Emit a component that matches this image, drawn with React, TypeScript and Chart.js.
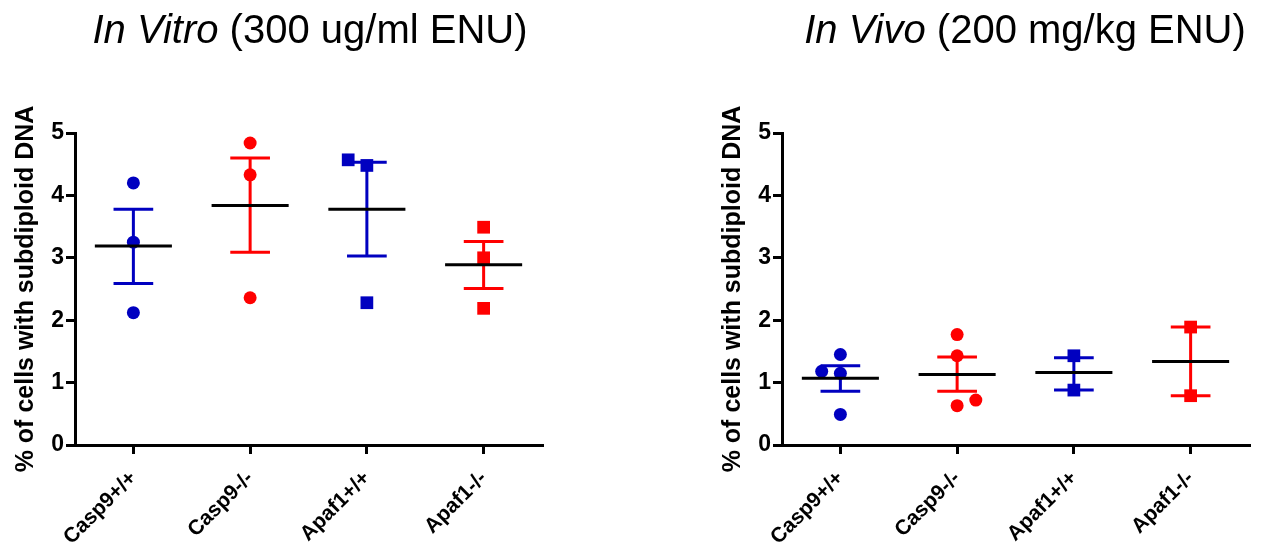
import React, { useEffect, useRef } from "react";
import { Chart, registerables } from "chart.js";

Chart.register(...registerables);

const FONT = "'Liberation Sans', Arial, Helvetica, sans-serif";

const categories = ["Casp9+/+", "Casp9-/-", "Apaf1+/+", "Apaf1-/-"];
const groupColors = ["#0000C0", "#FF0000", "#0000C0", "#FF0000"];
const groupShapes = ["circle", "circle", "rect", "rect"];
const yAxisTitle = "% of cells with subdiploid DNA";

// In Vitro (300 ug/ml ENU)
const vitroValues = [
  [4.2, 3.25, 2.12],
  [4.84, 4.33, 2.36],
  [4.57, 4.48, 2.28],
  [3.49, 3.0, 2.19],
];
const vitroJitter = [
  [0, 0, 0],
  [0, 0, 0],
  [-0.16, 0, 0],
  [0, 0, 0],
];
const vitroMean = [3.19, 3.84, 3.78, 2.89];
const vitroUpper = [3.78, 4.6, 4.53, 3.26];
const vitroLower = [2.59, 3.09, 3.03, 2.51];

// In Vivo (200 mg/kg ENU)
const vivoValues = [
  [1.45, 1.18, 1.15, 0.49],
  [1.77, 1.43, 0.63, 0.72],
  [1.43, 0.88],
  [1.89, 0.79],
];
const vivoJitter = [
  [0, -0.16, 0, 0],
  [0, 0, 0, 0.16],
  [0, 0],
  [0, 0],
];
const vivoMean = [1.07, 1.13, 1.16, 1.34];
const vivoUpper = [1.27, 1.41, 1.4, 1.89];
const vivoLower = [0.86, 0.86, 0.88, 0.79];

function buildConfig(
  values: number[][],
  jitter: number[][],
  mean: number[],
  upper: number[],
  lower: number[]
): any {
  const datasets: any[] = [];
  categories.forEach((c, i) => {
    datasets.push({
      type: "scatter",
      label: c,
      data: values[i].map((v, j) => ({ x: i + jitter[i][j], y: v })),
      pointStyle: groupShapes[i],
      pointRadius: groupShapes[i] === "rect" ? 9 : 6.5,
      pointHoverRadius: groupShapes[i] === "rect" ? 9 : 6.5,
      backgroundColor: groupColors[i],
      borderColor: groupColors[i],
      borderWidth: 0,
      showLine: false,
      order: 3,
    });
  });
  const hw = 0.17;
  categories.forEach((c, i) => {
    datasets.push({
      type: "scatter",
      label: c + " SEM",
      showLine: true,
      spanGaps: false,
      data: [
        { x: i, y: lower[i] },
        { x: i, y: upper[i] },
        { x: i, y: null },
        { x: i - hw, y: upper[i] },
        { x: i + hw, y: upper[i] },
        { x: i, y: null },
        { x: i - hw, y: lower[i] },
        { x: i + hw, y: lower[i] },
      ],
      borderColor: groupColors[i],
      backgroundColor: groupColors[i],
      borderWidth: 3,
      borderCapStyle: "butt",
      pointRadius: 0,
      pointHoverRadius: 0,
      order: 2,
    });
  });
  datasets.push({
    type: "scatter",
    label: "Mean",
    showLine: true,
    spanGaps: false,
    data: mean.flatMap((m, i) => [
      { x: i - 0.33, y: m },
      { x: i + 0.33, y: m },
      { x: i, y: null },
    ]),
    borderColor: "#000",
    backgroundColor: "#000",
    borderWidth: 3,
    borderCapStyle: "butt",
    pointRadius: 0,
    pointHoverRadius: 0,
    order: 1,
  });

  return {
    type: "scatter",
    data: { datasets },
    options: {
      animation: false,
      responsive: false,
      maintainAspectRatio: false,
      events: [],
      layout: { padding: { top: 133, right: 16, left: 0, bottom: 0 } },
      plugins: {
        legend: { display: false },
        tooltip: { enabled: false },
        title: { display: false },
      },
      scales: {
        x: {
          type: "linear",
          min: -0.5,
          max: 3.5,
          afterBuildTicks: (s: any) => {
            s.ticks = categories.map((_, i) => ({ value: i }));
          },
          afterFit: (s: any) => {
            s.height = 107;
          },
          grid: {
            display: true,
            drawOnChartArea: false,
            drawTicks: true,
            tickLength: 9,
            color: "#000",
            lineWidth: 3,
          },
          border: { display: true, color: "#000", width: 3 },
          ticks: {
            color: "#000",
            autoSkip: false,
            minRotation: 45,
            maxRotation: 45,
            padding: 12,
            font: { family: FONT, size: 21, weight: "bold" },
            callback: (v: any) => categories[Math.round(Number(v))] ?? "",
          },
        },
        y: {
          type: "linear",
          min: 0,
          max: 5,
          afterFit: (s: any) => {
            s.width = 75;
          },
          grid: {
            display: true,
            drawOnChartArea: false,
            drawTicks: true,
            tickLength: 9,
            color: "#000",
            lineWidth: 3,
          },
          border: { display: true, color: "#000", width: 3 },
          ticks: {
            stepSize: 1,
            color: "#000",
            padding: 2,
            font: { family: FONT, size: 23, weight: "bold" },
          },
          title: {
            display: true,
            text: yAxisTitle,
            color: "#000",
            font: { family: FONT, size: 25, weight: "bold" },
            padding: { top: 11, bottom: 0 },
          },
        },
      },
    },
  };
}

function Panel(props: {
  left: number;
  values: number[][];
  jitter: number[][];
  mean: number[];
  upper: number[];
  lower: number[];
}) {
  const ref = useRef<HTMLCanvasElement | null>(null);
  useEffect(() => {
    if (!ref.current) return;
    const chart = new Chart(
      ref.current,
      buildConfig(props.values, props.jitter, props.mean, props.upper, props.lower)
    );
    return () => chart.destroy();
  }, []);
  return (
    <canvas
      ref={ref}
      width={558}
      height={552}
      style={{ position: "absolute", left: props.left, top: 0, width: 558, height: 552 }}
    />
  );
}

const titleStyle: React.CSSProperties = {
  position: "absolute",
  top: 9,
  width: 600,
  textAlign: "center",
  fontFamily: FONT,
  fontSize: 40,
  lineHeight: "40px",
  color: "#000",
  whiteSpace: "nowrap",
};

export default function App() {
  return (
    <div
      style={{
        position: "fixed",
        left: 0,
        top: 0,
        width: 1265,
        height: 552,
        overflow: "hidden",
        background: "#fff",
      }}
    >
      <Panel left={0} values={vitroValues} jitter={vitroJitter} mean={vitroMean} upper={vitroUpper} lower={vitroLower} />
      <Panel left={707} values={vivoValues} jitter={vivoJitter} mean={vivoMean} upper={vivoUpper} lower={vivoLower} />
      <div style={{ ...titleStyle, left: 10 }}>
        <i>In Vitro</i> (300 ug/ml ENU)
      </div>
      <div style={{ ...titleStyle, left: 725 }}>
        <i>In Vivo</i> (200 mg/kg ENU)
      </div>
    </div>
  );
}
